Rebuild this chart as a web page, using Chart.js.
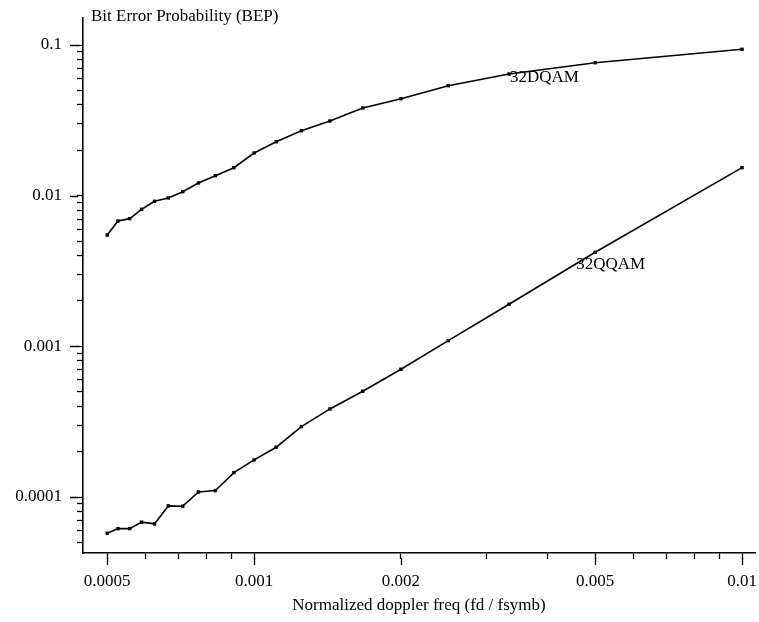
<!DOCTYPE html>
<html>
<head>
<meta charset="utf-8">
<script src="https://cdn.jsdelivr.net/npm/chart.js@4/dist/chart.umd.min.js"></script>
<style>
  html, body { margin: 0; padding: 0; background: #fff; }
  canvas { display: block; }
</style>
</head>
<body>
<canvas id="c" width="759" height="622"></canvas>
<script>
// Normalized doppler frequency (fd / fsymb)
const xValues = [0.0005, 0.000526, 0.000556, 0.000588, 0.000625, 0.000667, 0.000714, 0.000769, 0.000833, 0.000909,
                 0.001, 0.00111, 0.00125, 0.00143, 0.00167, 0.002, 0.0025, 0.00333, 0.005, 0.01];
// Bit error probability, 32DQAM
const bep32DQAM = [0.00548, 0.00679, 0.00704, 0.00812, 0.00918, 0.00966, 0.01063, 0.01214, 0.01358, 0.01534,
                   0.0192, 0.02282, 0.027, 0.03131, 0.03819, 0.04402, 0.05369, 0.06421, 0.07629, 0.09365];
// Bit error probability, 32QQAM
const bep32QQAM = [5.75e-5, 6.17e-5, 6.17e-5, 6.81e-5, 6.63e-5, 8.73e-5, 8.69e-5, 1.081e-4, 1.103e-4, 1.452e-4,
                   1.763e-4, 2.14e-4, 2.932e-4, 3.842e-4, 5.037e-4, 7.047e-4, 1.091e-3, 1.903e-3, 4.211e-3, 0.01534];

const seriesNames = ['32DQAM', '32QQAM'];

const xTickValues = [0.0005, 0.0006, 0.0007, 0.0008, 0.0009, 0.001, 0.002, 0.003, 0.004, 0.005, 0.006, 0.007, 0.008, 0.009, 0.01];
const xTickLabels = { 0.0005: '0.0005', 0.001: '0.001', 0.002: '0.002', 0.005: '0.005', 0.01: '0.01' };

const yTickValues = [5e-5, 6e-5, 7e-5, 8e-5, 9e-5,
                     1e-4, 2e-4, 3e-4, 4e-4, 5e-4, 6e-4, 7e-4, 8e-4, 9e-4,
                     1e-3, 2e-3, 3e-3, 4e-3, 5e-3, 6e-3, 7e-3, 8e-3, 9e-3,
                     0.01, 0.02, 0.03, 0.04, 0.05, 0.06, 0.07, 0.08, 0.09, 0.1];
const yTickLabels = { 0.0001: '0.0001', 0.001: '0.001', 0.01: '0.01', 0.1: '0.1' };

const xTitle = 'Normalized doppler freq (fd / fsymb)';
const yTitle = 'Bit Error Probability (BEP)';

const FONT = "'Liberation Serif', 'Times New Roman', serif";
Chart.defaults.font.family = FONT;
Chart.defaults.color = '#000';

function labelFor(map, v) {
  for (const k in map) {
    if (Math.abs(Math.log10(v) - Math.log10(parseFloat(k))) < 1e-6) return map[k];
  }
  return '';
}

const extrasPlugin = {
  id: 'extras',
  afterDraw(chart) {
    const ctx = chart.ctx;
    const xs = chart.scales.x, ys = chart.scales.y;
    ctx.save();
    ctx.strokeStyle = '#000';
    ctx.lineWidth = 1.3;
    // longer major tick marks
    ctx.beginPath();
    for (const k in yTickLabels) {
      const py = Math.round(ys.getPixelForValue(parseFloat(k))) + 0.5;
      ctx.moveTo(ys.right - 13, py); ctx.lineTo(ys.right - 5, py);
    }
    for (const k in xTickLabels) {
      const px = Math.round(xs.getPixelForValue(parseFloat(k))) + 0.5;
      ctx.moveTo(px, xs.top + 5); ctx.lineTo(px, xs.top + 12);
    }
    ctx.stroke();
    // y-axis title at top left
    ctx.fillStyle = '#000';
    ctx.font = '17px ' + FONT;
    ctx.textAlign = 'left';
    ctx.textBaseline = 'middle';
    ctx.fillText(yTitle, chart.chartArea.left + 8, 17);
    // series labels
    const a = chart.getDatasetMeta(0).data[17];
    ctx.fillText(seriesNames[0], a.x + 1, a.y + 4);
    const b = chart.getDatasetMeta(1).data[18];
    ctx.fillText(seriesNames[1], b.x - 19, b.y + 12);
    ctx.restore();
  }
};

function ds(label, ys) {
  return {
    label,
    data: xValues.map((x, i) => ({ x, y: ys[i] })),
    borderColor: '#000',
    backgroundColor: '#000',
    borderWidth: 1.6,
    pointStyle: 'rect',
    pointRadius: 2.4,
    pointBorderWidth: 0,
    tension: 0
  };
}

function noPad(s) { s.paddingTop = 0; s.paddingBottom = 0; s.paddingLeft = 0; s.paddingRight = 0; }

new Chart(document.getElementById('c'), {
  type: 'line',
  data: { datasets: [ds(seriesNames[0], bep32DQAM), ds(seriesNames[1], bep32QQAM)] },
  options: {
    responsive: false,
    animation: false,
    devicePixelRatio: 1,
    layout: { padding: { top: 18, right: 2, left: 0, bottom: 0 } },
    plugins: { legend: { display: false }, tooltip: { enabled: false } },
    scales: {
      x: {
        type: 'logarithmic',
        min: 0.000446,
        max: 0.01063,
        afterBuildTicks: s => { s.ticks = xTickValues.map(v => ({ value: v })); },
        afterFit: s => { s.height = 69; noPad(s); },
        ticks: {
          autoSkip: false, maxRotation: 0, padding: 12,
          font: { size: 17 },
          callback: v => labelFor(xTickLabels, v)
        },
        grid: { drawOnChartArea: false, drawTicks: true, tickLength: 6, tickColor: '#000', tickWidth: 1.3 },
        border: { display: true, color: '#000', width: 1.6 },
        title: { display: true, text: xTitle, font: { size: 17 }, padding: { top: 4, bottom: 6 } }
      },
      y: {
        type: 'logarithmic',
        min: 4.25e-5,
        max: 0.1511,
        afterBuildTicks: s => { s.ticks = yTickValues.map(v => ({ value: v })); },
        afterFit: s => { s.width = 83; noPad(s); },
        ticks: {
          autoSkip: false, padding: 15,
          font: { size: 17 },
          callback: v => labelFor(yTickLabels, v)
        },
        grid: { drawOnChartArea: false, drawTicks: true, tickLength: 6, tickColor: '#000', tickWidth: 1.3 },
        border: { display: true, color: '#000', width: 1.6 }
      }
    }
  },
  plugins: [extrasPlugin]
});
</script>
</body>
</html>
